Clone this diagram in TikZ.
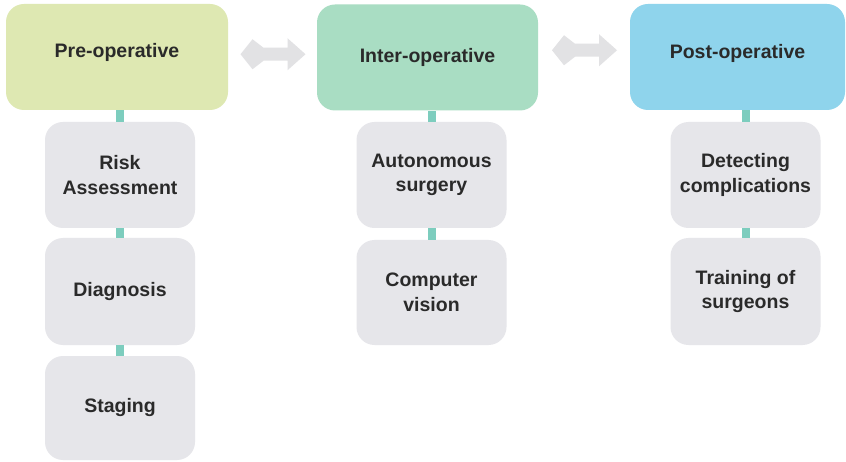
\documentclass[tikz,border=0pt]{standalone}
\usepackage{fontspec}
\setmainfont{Liberation Sans}
\usetikzlibrary{calc}
\definecolor{preC}{HTML}{DEE8B2}
\definecolor{interC}{HTML}{A9DDC3}
\definecolor{postC}{HTML}{8FD4EC}
\definecolor{grayC}{HTML}{E6E6EA}
\definecolor{tealC}{HTML}{7DCDBE}
\definecolor{arrowC}{HTML}{E2E2E4}
\definecolor{txtC}{HTML}{2A2A2A}
\tikzset{
  boxbase/.style={rounded corners=18pt, inner sep=0pt, align=center,
    text=txtC, font=\fontsize{19.5}{24.5}\selectfont\bfseries},
  header/.style={boxbase, minimum width=#1, minimum height=106pt},
  itembox/.style={boxbase, fill=grayC, minimum width=150pt, minimum height=#1},
  link/.style={draw=tealC, line width=8pt},
  dblarrow/.pic={\fill[arrowC] (0,0) -- (12,-15) -- (23,-6.5) -- (47,-6.5) -- (47,-16)
     -- (65,0) -- (47,16) -- (47,6.5) -- (23,6.5) -- (12,15) -- cycle;}
}
\begin{document}
\begin{tikzpicture}[x=1pt,y=-1pt]
\useasboundingbox (0,0) rectangle (846,462);
\fill[white] (0,0) rectangle (846,462);
% headers
\node[header=222pt, fill=preC] (pre) at (117,57) {\raisebox{5pt}[\height][\depth]{Pre-operative}};
\node[header=221pt, fill=interC] (inter) at (427.5,57.5) {Inter-operative};
\node[header=215pt, fill=postC] (post) at (737.5,57) {\raisebox{4pt}[\height][\depth]{Post-operative}};
% items
\node[itembox=106pt] (risk) at (120,175) {Risk\\Assessment};
\node[itembox=107pt] (diag) at (120,291.5) {Diagnosis};
\node[itembox=104pt] (stag) at (120,408) {Staging};
\node[itembox=106pt] (auto) at (431.5,175) {Autonomous\\surgery};
\node[itembox=105pt] (comp) at (431.5,292.5) {Computer\\vision};
\node[itembox=106pt] (detc) at (745.5,175) {Detecting\\complications};
\node[itembox=107pt] (train) at (745.5,291.5) {Training of\\surgeons};
% connectors
\draw[link] (risk.north) -- (risk.north |- pre.south);
\draw[link] (diag.north) -- (risk.south);
\draw[link] (stag.north) -- (diag.south);
\draw[link] (auto.north) -- (auto.north |- inter.south);
\draw[link] (comp.north) -- (auto.south);
\draw[link] (detc.north) -- (detc.north |- post.south);
\draw[link] (train.north) -- (detc.south);
% double arrows between phases
\pic at ($(pre.east)!0.5!(inter.west) + (-32,-3)$) {dblarrow};
\pic at ($(inter.east)!0.5!(post.west) + (-32,-7)$) {dblarrow};
\end{tikzpicture}
\end{document}
